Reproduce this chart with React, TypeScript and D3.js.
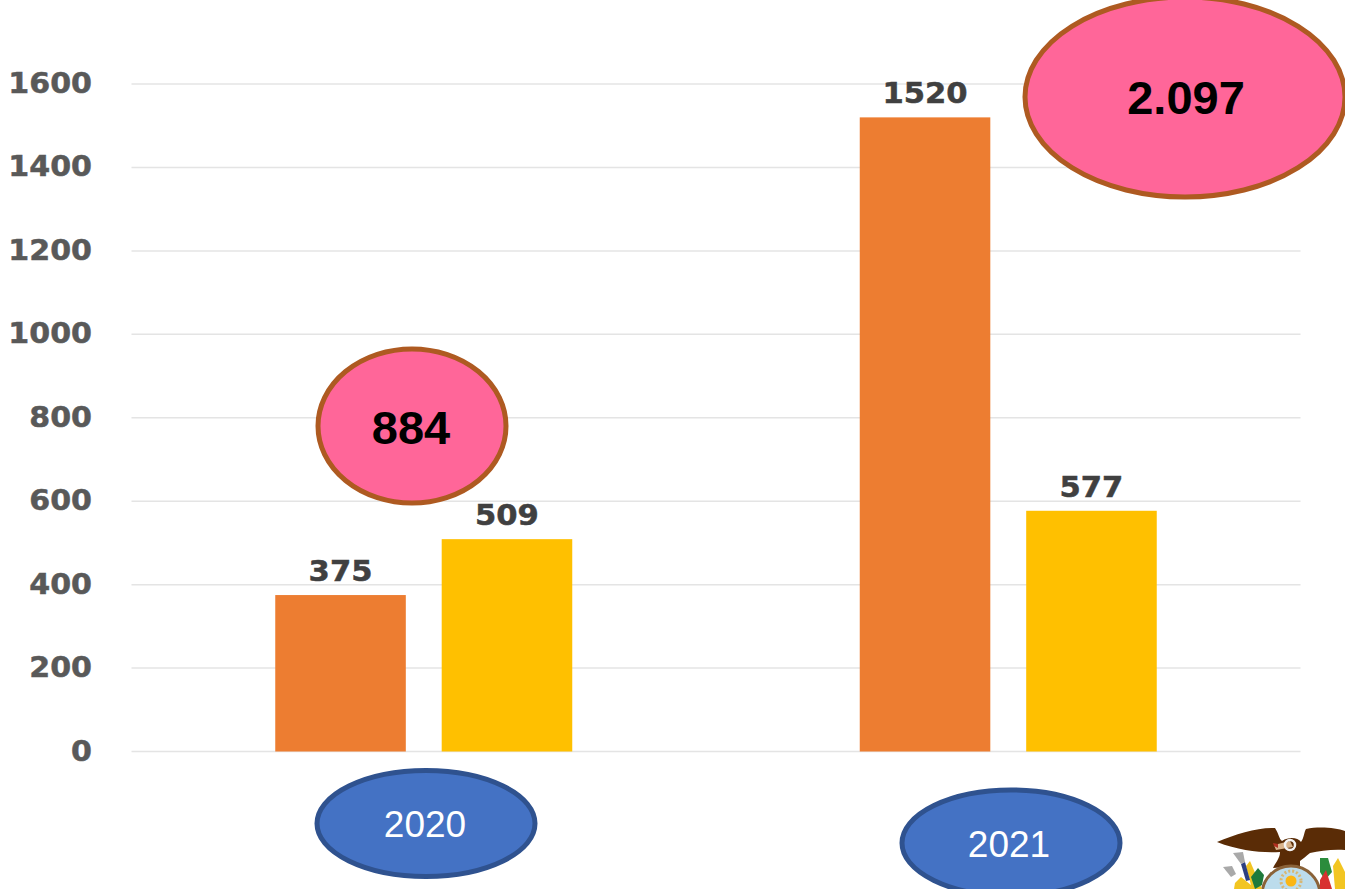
import React from "react";
import * as d3 from "d3";

const years = ["2020", "2021"];
const seriesA = [375, 1520];
const seriesB = [509, 577];
const yTicks = [0, 200, 400, 600, 800, 1000, 1200, 1400, 1600];
const totals = ["884", "2.097"];

const W = 1345, H = 889;
const LABEL = "'DejaVu Sans', sans-serif";
const ARIAL = "'Liberation Sans', Arial, sans-serif";
const STRETCH = 1.055;

const y = d3.scaleLinear().domain([0, 1600]).range([751.5, 84]);
const x0 = d3.scaleBand<string>().domain(years).range([131.5, 1300.5]);
const x1 = d3.scaleBand<string>().domain(["a", "b"]).range([-148.5, 148.5]).paddingInner(0.2156).paddingOuter(0);

const totalShapes = [
  { cx: 412, cy: 426, rx: 94, ry: 77, dx: -1, dy: 18 },
  { cx: 1185, cy: 97, rx: 160, ry: 100, dx: 1, dy: 17 },
];
const yearShapes = [
  { cx: 426, cy: 823.5, rx: 109, ry: 53, dx: -1, dy: 13 },
  { cx: 1011, cy: 843, rx: 109, ry: 53, dx: -2, dy: 14 },
];

function Emblem() {
  return (
    <g>
      <path d="M1217 842 C1236 834 1258 827 1275 828 C1279 834 1279 839 1282 841 C1290 836 1298 838 1301 842 C1304 838 1304 832 1306 829 C1320 826 1336 828 1345 831 L1345 850 C1332 849 1320 851 1310 853 C1306 856 1303 859 1300 861 L1300 866 L1273 868 C1276 862 1280 858 1280 852 C1262 853 1240 851 1217 842 Z" fill="#5a2c06" />
      <path d="M1274 845 L1290 841 L1293 847 L1276 850 Z" fill="#d9b48c" />
      <path d="M1273 843 L1278 844 L1278 848 L1274 846 Z" fill="#b03020" />
      <circle cx="1290" cy="845" r="5" fill="none" stroke="#f4f4f4" strokeWidth="2.5" />
      <ellipse cx="1291" cy="895" rx="29" ry="29" fill="#bcdcec" stroke="#8a6238" strokeWidth="3" />
      <circle cx="1291" cy="881" r="5.5" fill="#fbb615" />
      <circle cx="1291" cy="881" r="10" fill="none" stroke="#d8b774" strokeWidth="3" strokeDasharray="2 2" />
      <path d="M1246 866 L1250 861 L1262 889 L1252 889 Z" fill="#f2c522" />
      <path d="M1241 864 L1245 862 L1250 880 L1246 881 Z" fill="#2d3f80" />
      <path d="M1233 853 L1243 852 L1245 862 L1241 864 Z" fill="#a9a9a9" />
      <path d="M1223 867 L1232 866 L1236 874 L1231 877 Z" fill="#a9a9a9" />
      <path d="M1235 883 L1241 877 L1256 889 L1234 889 Z" fill="#f2c522" />
      <path d="M1251 877 L1258 868 L1264 875 L1262 885 L1255 889 Z" fill="#1f7a3c" />
      <path d="M1320 858 L1328 858 L1332 872 L1325 880 L1320 872 Z" fill="#2b8c3c" />
      <path d="M1320 880 L1326 870 L1332 889 L1320 889 Z" fill="#d83030" />
      <path d="M1333 866 L1338 858 L1345 872 L1345 889 L1335 889 Z" fill="#f2c522" />
    </g>
  );
}

export default function App() {
  return (
    <svg width={W} height={H} viewBox={`0 0 ${W} ${H}`} style={{ position: "absolute", left: 0, top: 0, background: "#fff" }}>
      {yTicks.map((t) => (
        <g key={t}>
          <line x1={131.5} x2={1300.5} y1={y(t)} y2={y(t)} stroke="#e4e4e4" strokeWidth={1.5} />
          <text transform={`translate(92 ${y(t) + 9}) scale(${STRETCH} 1)`} textAnchor="end" fontFamily={LABEL} fontWeight={700} fontSize={28.5} fill="#595959" stroke="#595959" strokeWidth={0.5}>{t}</text>
        </g>
      ))}
      {years.map((yr, i) => {
        const c = x0(yr)! + x0.bandwidth() / 2;
        const bars = [
          { key: "a", v: seriesA[i], fill: "#ED7D31" },
          { key: "b", v: seriesB[i], fill: "#FFC000" },
        ];
        return (
          <g key={yr}>
            {bars.map((b) => {
              const bx = c + x1(b.key)!;
              return (
                <g key={b.key}>
                  <rect x={bx} y={y(b.v)} width={x1.bandwidth()} height={y(0) - y(b.v)} fill={b.fill} />
                  <text transform={`translate(${bx + x1.bandwidth() / 2} ${y(b.v) - 14}) scale(${STRETCH} 1)`} textAnchor="middle" fontFamily={LABEL} fontWeight={700} fontSize={29} fill="#404040" stroke="#404040" strokeWidth={0.5}>{b.v}</text>
                </g>
              );
            })}
          </g>
        );
      })}
      {totalShapes.map((s, i) => (
        <g key={totals[i]}>
          <ellipse cx={s.cx} cy={s.cy} rx={s.rx} ry={s.ry} fill="#FF6699" stroke="#AE5A21" strokeWidth={5} />
          <text x={s.cx + s.dx} y={s.cy + s.dy} textAnchor="middle" fontFamily={ARIAL} fontWeight={700} fontSize={47} fill="#000">{totals[i]}</text>
        </g>
      ))}
      {yearShapes.map((s, i) => (
        <g key={years[i]}>
          <ellipse cx={s.cx} cy={s.cy} rx={s.rx} ry={s.ry} fill="#4472C4" stroke="#2F528F" strokeWidth={5} />
          <text x={s.cx + s.dx} y={s.cy + s.dy} textAnchor="middle" fontFamily={ARIAL} fontSize={37} fill="#fff">{years[i]}</text>
        </g>
      ))}
      <Emblem />
    </svg>
  );
}
